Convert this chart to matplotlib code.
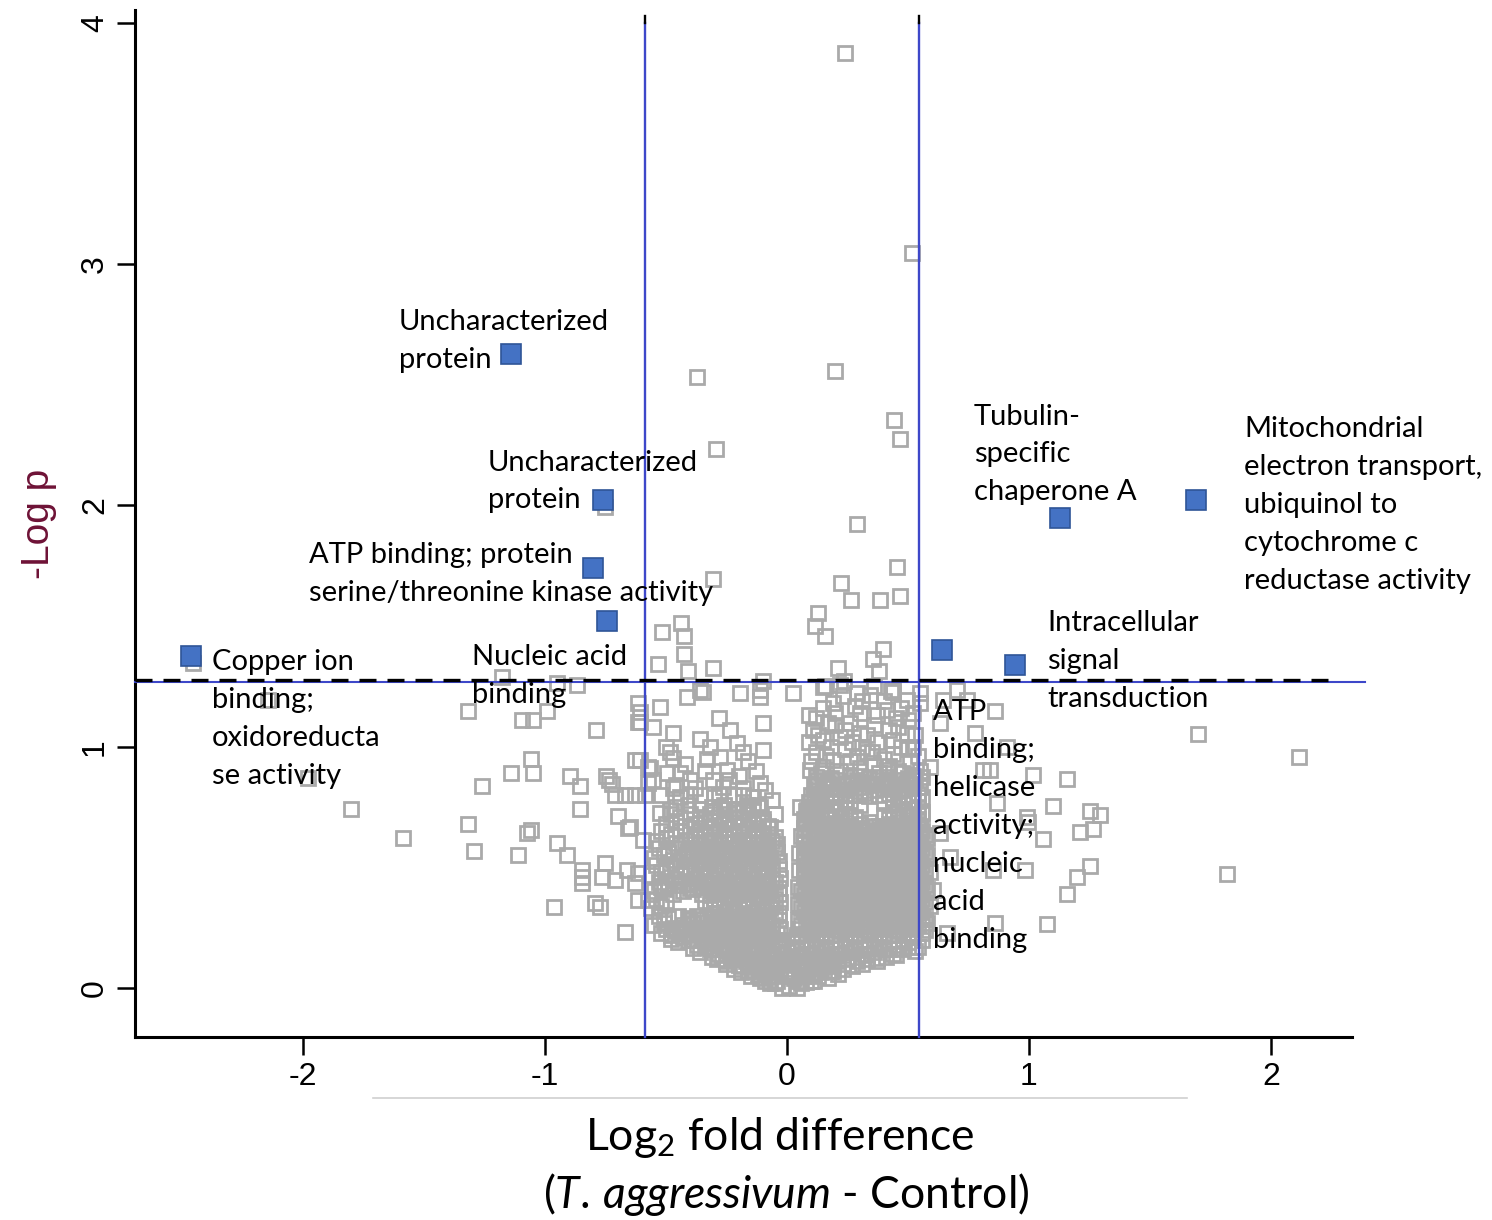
import numpy as np
import matplotlib.pyplot as plt
from matplotlib.lines import Line2D

plt.rcParams['font.family'] = ['Liberation Sans', 'DejaVu Sans']
plt.rcParams['axes.unicode_minus'] = False
plt.rcParams['mathtext.fontset'] = 'custom'
plt.rcParams['mathtext.rm'] = 'Lato'
plt.rcParams['mathtext.it'] = 'Lato:italic'

# Proteins passing both cut-offs (log2 fold difference, -log p)
hit_x = [-2.463, -1.140, -0.760, -0.802, -0.744, 0.640, 0.942, 1.128, 1.690]
hit_y = [1.376, 2.627, 2.022, 1.741, 1.521, 1.401, 1.339, 1.948, 2.022]
hit_labels = [
    'Copper ion\nbinding;\noxidoreducta\nse activity',
    'Uncharacterized\nprotein',
    'Uncharacterized\nprotein',
    'ATP binding; protein\nserine/threonine kinase activity',
    'Nucleic acid\nbinding',
    'ATP\nbinding;\nhelicase\nactivity;\nnucleic\nacid\nbinding',
    'Intracellular\nsignal\ntransduction',
    'Tubulin-\nspecific\nchaperone A',
    'Mitochondrial\nelectron transport,\nubiquinol to\ncytochrome c\nreductase activity',
]
label_pos = [(-2.376, 1.113), (-1.603, 2.681), (-1.236, 2.099), (-1.975, 1.714),
             (-1.302, 1.293), (0.603, 0.671), (1.074, 1.357), (0.773, 2.211),
             (1.888, 2.003)]

# Cut-offs
fc_low, fc_high = -0.587, 0.546
p_cut = 1.278

# Scattered proteins away from the central cloud
outer_pts = [
    (0.240, 3.875), (0.517, 3.046), (-0.372, 2.532), (0.198, 2.557), (0.442, 2.354),
    (0.467, 2.275), (-0.293, 2.234), (0.289, 1.923), (0.455, 1.745), (-0.306, 1.695),
    (0.223, 1.678), (0.264, 1.608), (0.384, 1.608), (0.467, 1.625), (0.128, 1.554),
    (0.116, 1.500), (0.157, 1.459), (-0.517, 1.475), (-0.438, 1.513), (-0.426, 1.459),
    (-0.426, 1.384), (-0.409, 1.314), (-0.533, 1.343), (-0.306, 1.326), (0.397, 1.405),
    (0.355, 1.363), (0.380, 1.314), (0.211, 1.326), (-0.099, 1.272), (0.157, 1.252),
    (0.236, 1.272), (-0.752, 1.993),
    (-2.455, 1.347), (-1.979, 0.870), (-1.802, 0.742), (-1.587, 0.622), (-2.145, 1.194),
    (-1.178, 1.289), (-1.318, 1.148), (-1.095, 1.111), (-1.050, 1.111), (-0.992, 1.148),
    (-0.950, 1.264), (-0.868, 1.256), (-0.789, 1.069), (-1.058, 0.949), (-1.140, 0.891),
    (-1.050, 0.891), (-1.260, 0.837), (-0.897, 0.879), (-0.855, 0.837), (-0.748, 0.879),
    (-0.736, 0.862), (-0.723, 0.845), (-0.711, 0.800), (-0.669, 0.800), (-0.628, 0.800),
    (-0.587, 0.800), (-1.318, 0.680), (-1.293, 0.568), (-1.112, 0.551), (-1.074, 0.642),
    (-1.058, 0.655), (-0.855, 0.742), (-0.698, 0.713), (-0.657, 0.663), (-0.950, 0.601),
    (-0.909, 0.551), (-0.847, 0.489), (-0.847, 0.460), (-0.847, 0.435), (-0.752, 0.518),
    (-0.764, 0.460), (-0.711, 0.448), (-0.661, 0.489), (-0.628, 0.435), (-0.793, 0.352),
    (-0.773, 0.336), (-0.963, 0.336), (-0.669, 0.232), (-0.616, 0.365),
    (-0.616, 1.181), (-0.616, 1.102), (-0.628, 0.945), (-0.574, 0.916), (-0.574, 0.850),
    (-0.595, 0.613), (-0.616, 0.477), (-0.574, 0.365), (-0.360, 1.235), (-0.112, 1.235),
    (0.438, 1.235), (0.550, 1.222), (0.702, 1.235),
    (0.860, 1.148), (0.777, 1.057), (1.698, 1.053), (2.116, 0.957), (1.818, 0.472),
    (1.157, 0.866), (1.099, 0.754), (1.252, 0.734), (1.293, 0.717), (1.211, 0.647),
    (1.264, 0.659), (1.058, 0.617), (1.252, 0.506), (1.198, 0.460), (1.157, 0.390),
    (1.074, 0.265), (1.017, 0.883), (0.996, 0.688), (0.983, 0.489), (0.860, 0.269),
    (0.909, 0.999), (0.810, 0.903), (0.744, 1.194), (0.591, 0.916), (0.839, 0.903),
    (0.868, 0.767), (0.992, 0.709), (0.851, 0.489), (0.632, 0.642), (0.674, 0.543),
    (0.603, 0.406), (0.661, 0.228), (0.632, 1.098), (0.645, 1.194),
]

# Upper, looser part of the two lobes
upper_pts = [
    (-0.414, 1.207), (-0.347, 1.228), (-0.194, 1.222), (-0.112, 1.207), (-0.525, 1.166),
    (-0.607, 1.145), (-0.607, 1.104), (-0.554, 1.083), (-0.471, 1.057), (-0.483, 0.979),
    (-0.471, 0.953), (-0.318, 1.000), (-0.236, 1.069), (-0.208, 1.014), (-0.181, 0.979),
    (-0.098, 0.986), (-0.277, 0.959), (-0.249, 0.903), (-0.305, 0.862), (-0.263, 0.834),
    (-0.181, 0.828), (-0.607, 0.945), (-0.566, 0.910), (-0.497, 0.890), (-0.552, 0.862),
    (-0.470, 0.828), (-0.401, 0.800), (-0.525, 0.724), (-0.483, 0.738), (-0.277, 0.751),
    (-0.167, 0.758), (-0.112, 0.751), (-0.070, 0.668), (-0.649, 0.668), (0.025, 1.222),
    (0.149, 1.248), (0.219, 1.256), (0.289, 1.222), (0.343, 1.214), (0.438, 1.227),
    (0.496, 1.194), (0.190, 1.181), (0.302, 1.140), (0.413, 1.152), (0.107, 1.069),
    (0.149, 1.028), (0.219, 1.040), (0.302, 1.057), (0.372, 1.020), (0.438, 1.028),
    (0.496, 1.057), (0.095, 0.903), (0.149, 0.916), (0.190, 0.945), (0.289, 0.957),
    (0.355, 0.932), (0.413, 0.903), (0.479, 0.891), (0.054, 0.750), (0.083, 0.738),
    (0.107, 0.750), (0.50, 1.11), (0.52, 1.00), (0.51, 0.94), (0.55, 0.90), (0.24, 0.99),
    (0.33, 0.98), (0.17, 1.10), (0.26, 1.10), (0.36, 1.09), (0.45, 1.12), (0.12, 0.98),
    (0.12, 1.12), (0.20, 1.09), (0.28, 1.17), (0.40, 1.19), (0.47, 1.16), (0.53, 1.05),
    (0.16, 0.96), (0.27, 1.02), (0.35, 0.98), (0.44, 0.97), (0.50, 0.99), (0.09, 1.02),
    (0.23, 1.21), (0.37, 1.13), (0.42, 1.07),
    (0.10, 0.94), (0.18, 1.00), (0.26, 0.94), (0.31, 1.00), (0.40, 0.95), (0.47, 1.00),
    (0.54, 0.96), (0.13, 1.05), (0.24, 1.07), (0.33, 1.05), (0.46, 1.08), (0.52, 1.14),
    (0.15, 1.16), (0.31, 1.19), (0.43, 1.23), (0.36, 1.25), (0.20, 1.14), (0.09, 1.13),
    (0.55, 1.18), (0.30, 0.91), (0.42, 0.92),
    (-0.44, 0.79), (-0.36, 0.80), (-0.30, 0.79), (-0.22, 0.80), (-0.14, 0.79), (-0.09, 0.82),
    (-0.40, 0.86), (-0.34, 0.90), (-0.20, 0.88), (-0.13, 0.90), (-0.42, 0.93), (-0.36, 1.03),
    (-0.10, 1.10), (-0.28, 1.12), (-0.50, 1.00),
    (-0.52, 0.80), (-0.46, 0.84), (-0.38, 0.83), (-0.28, 0.80), (-0.18, 0.80), (-0.11, 0.85),
    (-0.24, 0.86), (-0.33, 0.95), (-0.16, 0.94), (-0.44, 0.89), (-0.06, 0.78), (-0.05, 0.72),
]

# Dense base of the volcano, both sides joined
base_pts = [
    (-0.05, 0.02), (-0.02, 0.00), (0.01, 0.01), (0.04, 0.00), (0.06, 0.02),
    (-0.09, 0.03), (-0.07, 0.02), (0.05, 0.03), (0.08, 0.025), (0.11, 0.03),
    (-0.15, 0.05), (-0.11, 0.04), (-0.08, 0.05), (-0.04, 0.03), (-0.01, 0.05), (0.03, 0.04),
    (0.07, 0.05), (0.10, 0.03), (0.13, 0.05), (0.17, 0.04),
    (-0.19, 0.065), (-0.16, 0.07), (-0.12, 0.06), (-0.09, 0.065), (-0.05, 0.07), (-0.01, 0.06),
    (0.03, 0.065), (0.07, 0.07), (0.10, 0.06), (0.14, 0.065), (0.18, 0.07), (0.21, 0.06),
    (-0.22, 0.08), (-0.18, 0.09), (-0.14, 0.07), (-0.10, 0.08), (-0.07, 0.09), (-0.03, 0.07),
    (0.01, 0.08), (0.05, 0.09), (0.08, 0.07), (0.12, 0.08), (0.16, 0.09), (0.19, 0.07),
    (0.23, 0.08), (0.27, 0.09),
    (-0.25, 0.10), (-0.20, 0.095), (-0.16, 0.10), (-0.12, 0.095), (-0.08, 0.10), (-0.04, 0.095),
    (0.00, 0.10), (0.04, 0.095), (0.08, 0.10), (0.12, 0.095), (0.15, 0.10), (0.19, 0.095),
    (0.23, 0.10), (0.27, 0.095), (0.31, 0.10),
    (-0.29, 0.12), (-0.25, 0.11), (-0.21, 0.12), (-0.17, 0.11), (-0.14, 0.12), (-0.10, 0.11),
    (-0.06, 0.12), (-0.02, 0.11), (0.02, 0.12), (0.06, 0.11), (0.10, 0.12), (0.14, 0.11),
    (0.17, 0.12), (0.21, 0.11), (0.25, 0.12), (0.29, 0.11), (0.33, 0.12), (0.37, 0.11),
    (-0.31, 0.13), (-0.27, 0.135), (-0.23, 0.125), (-0.19, 0.13), (-0.15, 0.135), (-0.11, 0.125),
    (-0.07, 0.13), (-0.03, 0.135), (0.01, 0.125), (0.05, 0.13), (0.09, 0.135), (0.13, 0.125),
    (0.17, 0.13), (0.21, 0.135), (0.25, 0.125), (0.29, 0.13), (0.33, 0.135), (0.37, 0.125),
    (0.41, 0.13), (0.45, 0.135),
    (-0.36, 0.15), (-0.32, 0.16), (-0.28, 0.14), (-0.24, 0.15), (-0.20, 0.16), (-0.16, 0.14),
    (-0.12, 0.15), (-0.08, 0.16), (-0.04, 0.14), (0.00, 0.15), (0.04, 0.16), (0.08, 0.14),
    (0.12, 0.15), (0.16, 0.16), (0.20, 0.14), (0.24, 0.15), (0.28, 0.16), (0.32, 0.14),
    (0.36, 0.15), (0.40, 0.16), (0.44, 0.14), (0.48, 0.16),
    (-0.39, 0.165), (-0.34, 0.17), (-0.30, 0.16), (-0.26, 0.165), (-0.22, 0.17), (-0.18, 0.16),
    (-0.14, 0.165), (-0.10, 0.17), (-0.06, 0.16), (-0.02, 0.165), (0.02, 0.17), (0.06, 0.16),
    (0.10, 0.165), (0.14, 0.17), (0.18, 0.16), (0.22, 0.165), (0.26, 0.17), (0.30, 0.16),
    (0.34, 0.165), (0.38, 0.17), (0.42, 0.16), (0.46, 0.165), (0.50, 0.17), (0.53, 0.155),
    (-0.45, 0.19), (-0.41, 0.20), (-0.37, 0.18), (-0.33, 0.19), (-0.29, 0.20), (-0.25, 0.18),
    (-0.21, 0.19), (-0.17, 0.20), (-0.13, 0.18), (-0.09, 0.19), (-0.05, 0.20), (-0.02, 0.18),
    (0.02, 0.19), (0.06, 0.20), (0.10, 0.18), (0.14, 0.19), (0.18, 0.20), (0.22, 0.18),
    (0.26, 0.19), (0.30, 0.20), (0.34, 0.18), (0.38, 0.19), (0.42, 0.20), (0.46, 0.18),
    (0.50, 0.19), (0.54, 0.17),
    (-0.48, 0.205), (-0.43, 0.21), (-0.39, 0.20), (-0.35, 0.205), (-0.31, 0.21), (-0.27, 0.20),
    (-0.23, 0.205), (-0.19, 0.21), (-0.15, 0.20), (-0.11, 0.205), (-0.07, 0.21), (-0.03, 0.20),
    (0.04, 0.21), (0.08, 0.20), (0.12, 0.205), (0.16, 0.21), (0.20, 0.20), (0.24, 0.205),
    (0.28, 0.21), (0.32, 0.20), (0.36, 0.205), (0.40, 0.21), (0.44, 0.20), (0.48, 0.205),
    (0.52, 0.21), (0.56, 0.20),
    (-0.52, 0.23), (-0.48, 0.22), (-0.44, 0.23), (-0.40, 0.22), (-0.36, 0.23), (-0.32, 0.22),
    (-0.28, 0.23), (-0.24, 0.22), (-0.20, 0.23), (-0.16, 0.22), (-0.12, 0.23), (-0.08, 0.22),
    (-0.04, 0.23), (0.04, 0.22), (0.08, 0.23), (0.12, 0.22), (0.16, 0.23), (0.20, 0.22),
    (0.24, 0.23), (0.28, 0.22), (0.32, 0.23), (0.36, 0.22), (0.40, 0.23), (0.44, 0.22),
    (0.48, 0.23), (0.52, 0.22), (0.56, 0.23),
    (-0.50, 0.245), (-0.46, 0.24), (-0.42, 0.25), (-0.38, 0.245), (-0.34, 0.24), (-0.30, 0.25),
    (-0.26, 0.245), (-0.22, 0.24), (-0.18, 0.25), (-0.14, 0.245), (-0.10, 0.24), (-0.06, 0.25),
    (-0.03, 0.245), (0.05, 0.245), (0.09, 0.24), (0.13, 0.25), (0.17, 0.245), (0.21, 0.24),
    (0.25, 0.25), (0.29, 0.245), (0.33, 0.24), (0.37, 0.25), (0.41, 0.245), (0.45, 0.24),
    (0.49, 0.25), (0.53, 0.245), (0.57, 0.24),
]

# Left (down-regulated side) lobe of the cloud
left_pts = [
    (-0.55, 0.26), (-0.51, 0.27), (-0.47, 0.25), (-0.43, 0.26), (-0.39, 0.27), (-0.35, 0.25),
    (-0.31, 0.26), (-0.27, 0.27), (-0.23, 0.25), (-0.19, 0.26), (-0.15, 0.27), (-0.11, 0.25),
    (-0.06, 0.26),
    (-0.40, 0.28), (-0.36, 0.285), (-0.32, 0.275), (-0.28, 0.28), (-0.24, 0.285), (-0.20, 0.275),
    (-0.16, 0.28), (-0.12, 0.285), (-0.08, 0.275), (-0.035, 0.28),
    (-0.53, 0.30), (-0.49, 0.29), (-0.45, 0.30), (-0.41, 0.29), (-0.37, 0.30), (-0.33, 0.29),
    (-0.29, 0.30), (-0.25, 0.29), (-0.21, 0.30), (-0.17, 0.29), (-0.13, 0.30), (-0.09, 0.29),
    (-0.05, 0.30),
    (-0.30, 0.31), (-0.26, 0.315), (-0.22, 0.32), (-0.18, 0.31), (-0.14, 0.315), (-0.10, 0.32),
    (-0.035, 0.31),
    (-0.56, 0.33), (-0.52, 0.34), (-0.32, 0.33), (-0.28, 0.34), (-0.24, 0.32), (-0.20, 0.33),
    (-0.16, 0.34), (-0.12, 0.32), (-0.07, 0.33),
    (-0.30, 0.35), (-0.26, 0.355), (-0.22, 0.345), (-0.18, 0.35), (-0.14, 0.355), (-0.10, 0.345),
    (-0.06, 0.35), (-0.03, 0.355),
    (-0.54, 0.37), (-0.50, 0.36), (-0.34, 0.36), (-0.30, 0.37), (-0.26, 0.36), (-0.22, 0.37),
    (-0.18, 0.36), (-0.14, 0.37), (-0.10, 0.36), (-0.05, 0.37),
    (-0.32, 0.385), (-0.28, 0.39), (-0.24, 0.38), (-0.20, 0.385), (-0.16, 0.39), (-0.12, 0.38),
    (-0.08, 0.385), (-0.035, 0.39),
    (-0.55, 0.40), (-0.51, 0.41), (-0.47, 0.39), (-0.43, 0.40), (-0.39, 0.41), (-0.35, 0.39),
    (-0.31, 0.40), (-0.27, 0.41), (-0.23, 0.39), (-0.19, 0.40), (-0.15, 0.41), (-0.11, 0.39),
    (-0.07, 0.40),
    (-0.52, 0.42), (-0.44, 0.425), (-0.40, 0.415), (-0.36, 0.42), (-0.32, 0.425), (-0.28, 0.415),
    (-0.24, 0.42), (-0.20, 0.425), (-0.16, 0.415), (-0.12, 0.42), (-0.08, 0.425), (-0.035, 0.415),
    (-0.53, 0.44), (-0.49, 0.43), (-0.45, 0.44), (-0.41, 0.43), (-0.37, 0.44), (-0.33, 0.43),
    (-0.29, 0.44), (-0.25, 0.43), (-0.21, 0.44), (-0.17, 0.43), (-0.13, 0.44), (-0.09, 0.43),
    (-0.05, 0.44),
    (-0.38, 0.455), (-0.34, 0.46), (-0.30, 0.45), (-0.26, 0.455), (-0.22, 0.46), (-0.18, 0.45),
    (-0.14, 0.455), (-0.10, 0.46), (-0.06, 0.45), (-0.03, 0.455),
    (-0.56, 0.47), (-0.52, 0.48), (-0.48, 0.46), (-0.44, 0.47), (-0.40, 0.48), (-0.36, 0.46),
    (-0.32, 0.47), (-0.28, 0.48), (-0.24, 0.46), (-0.20, 0.47), (-0.16, 0.48), (-0.12, 0.46),
    (-0.08, 0.47),
    (-0.50, 0.49), (-0.42, 0.495), (-0.38, 0.485), (-0.34, 0.49), (-0.30, 0.495), (-0.26, 0.485),
    (-0.22, 0.49), (-0.18, 0.495), (-0.14, 0.485), (-0.10, 0.49), (-0.035, 0.495),
    (-0.54, 0.51), (-0.50, 0.50), (-0.46, 0.51), (-0.42, 0.50), (-0.38, 0.51), (-0.34, 0.50),
    (-0.30, 0.51), (-0.26, 0.50), (-0.22, 0.51), (-0.18, 0.50), (-0.14, 0.51), (-0.10, 0.50),
    (-0.06, 0.51),
    (-0.40, 0.525), (-0.36, 0.53), (-0.32, 0.52), (-0.28, 0.525), (-0.24, 0.53), (-0.20, 0.52),
    (-0.16, 0.525), (-0.12, 0.53), (-0.08, 0.52), (-0.035, 0.525),
    (-0.55, 0.54), (-0.51, 0.55), (-0.47, 0.53), (-0.43, 0.54), (-0.39, 0.55), (-0.35, 0.53),
    (-0.31, 0.54), (-0.27, 0.55), (-0.23, 0.53), (-0.19, 0.54), (-0.15, 0.55), (-0.11, 0.53),
    (-0.07, 0.54),
    (-0.49, 0.56), (-0.41, 0.565), (-0.37, 0.555), (-0.33, 0.56), (-0.29, 0.565), (-0.25, 0.555),
    (-0.21, 0.56), (-0.17, 0.565), (-0.13, 0.555), (-0.09, 0.56), (-0.04, 0.565),
    (-0.53, 0.58), (-0.49, 0.57), (-0.45, 0.58), (-0.41, 0.57), (-0.37, 0.58), (-0.33, 0.57),
    (-0.29, 0.58), (-0.25, 0.57), (-0.21, 0.58), (-0.17, 0.57), (-0.13, 0.58), (-0.09, 0.57),
    (-0.05, 0.58),
    (-0.40, 0.595), (-0.36, 0.60), (-0.32, 0.59), (-0.28, 0.595), (-0.24, 0.60), (-0.20, 0.59),
    (-0.16, 0.595), (-0.12, 0.60), (-0.08, 0.59), (-0.04, 0.595),
    (-0.54, 0.61), (-0.50, 0.62), (-0.46, 0.60), (-0.42, 0.61), (-0.38, 0.62), (-0.34, 0.60),
    (-0.30, 0.61), (-0.26, 0.62), (-0.22, 0.60), (-0.18, 0.61), (-0.14, 0.62), (-0.10, 0.60),
    (-0.06, 0.61),
    (-0.38, 0.63), (-0.34, 0.635), (-0.30, 0.625), (-0.26, 0.63), (-0.22, 0.635), (-0.18, 0.625),
    (-0.14, 0.63), (-0.10, 0.635), (-0.05, 0.625),
    (-0.52, 0.65), (-0.48, 0.64), (-0.44, 0.65), (-0.40, 0.64), (-0.36, 0.65), (-0.32, 0.64),
    (-0.28, 0.65), (-0.24, 0.64), (-0.20, 0.65), (-0.16, 0.64), (-0.12, 0.65), (-0.08, 0.64),
    (-0.36, 0.665), (-0.32, 0.67), (-0.28, 0.66), (-0.24, 0.665), (-0.20, 0.67), (-0.16, 0.66),
    (-0.12, 0.665), (-0.08, 0.67),
    (-0.50, 0.68), (-0.46, 0.69), (-0.42, 0.67), (-0.38, 0.68), (-0.34, 0.69), (-0.30, 0.67),
    (-0.26, 0.68), (-0.22, 0.69), (-0.18, 0.67), (-0.14, 0.68), (-0.10, 0.69),
    (-0.34, 0.70), (-0.30, 0.705), (-0.26, 0.695), (-0.22, 0.70), (-0.18, 0.705), (-0.14, 0.695),
    (-0.10, 0.70),
    (-0.48, 0.72), (-0.44, 0.71), (-0.40, 0.72), (-0.36, 0.71), (-0.32, 0.72), (-0.28, 0.71),
    (-0.24, 0.72), (-0.20, 0.71), (-0.16, 0.72), (-0.12, 0.71),
    (-0.30, 0.735), (-0.26, 0.74), (-0.22, 0.73), (-0.18, 0.735), (-0.14, 0.74),
    (-0.46, 0.75), (-0.41, 0.76), (-0.36, 0.74), (-0.31, 0.75), (-0.26, 0.76), (-0.21, 0.74),
    (-0.16, 0.75), (-0.12, 0.76),
]

# Right (up-regulated side) lobe of the cloud
right_pts = [
    (0.06, 0.26), (0.10, 0.27), (0.14, 0.25), (0.18, 0.26), (0.22, 0.27), (0.26, 0.25),
    (0.30, 0.26), (0.34, 0.27), (0.38, 0.25), (0.42, 0.26), (0.46, 0.27), (0.50, 0.25),
    (0.54, 0.26), (0.58, 0.27),
    (0.045, 0.28), (0.09, 0.285), (0.13, 0.275), (0.17, 0.28), (0.21, 0.285), (0.25, 0.275),
    (0.29, 0.28), (0.33, 0.285), (0.37, 0.275), (0.41, 0.28), (0.45, 0.285), (0.49, 0.275),
    (0.53, 0.28), (0.57, 0.285),
    (0.08, 0.30), (0.12, 0.29), (0.16, 0.30), (0.20, 0.29), (0.24, 0.30), (0.28, 0.29),
    (0.32, 0.30), (0.36, 0.29), (0.40, 0.30), (0.44, 0.29), (0.48, 0.30), (0.52, 0.29),
    (0.56, 0.30),
    (0.07, 0.315), (0.11, 0.32), (0.15, 0.31), (0.19, 0.315), (0.23, 0.32), (0.27, 0.31),
    (0.31, 0.315), (0.35, 0.32), (0.39, 0.31), (0.43, 0.315), (0.47, 0.32), (0.51, 0.31),
    (0.55, 0.315),
    (0.06, 0.33), (0.10, 0.34), (0.14, 0.32), (0.18, 0.33), (0.22, 0.34), (0.26, 0.32),
    (0.30, 0.33), (0.34, 0.34), (0.38, 0.32), (0.42, 0.33), (0.46, 0.34), (0.50, 0.32),
    (0.54, 0.33), (0.59, 0.34),
    (0.045, 0.35), (0.09, 0.355), (0.13, 0.345), (0.17, 0.35), (0.21, 0.355), (0.25, 0.345),
    (0.29, 0.35), (0.33, 0.355), (0.37, 0.345), (0.41, 0.35), (0.45, 0.355), (0.49, 0.345),
    (0.53, 0.35), (0.57, 0.355),
    (0.08, 0.37), (0.12, 0.36), (0.16, 0.37), (0.20, 0.36), (0.24, 0.37), (0.28, 0.36),
    (0.32, 0.37), (0.36, 0.36), (0.40, 0.37), (0.44, 0.36), (0.48, 0.37), (0.52, 0.36),
    (0.56, 0.37),
    (0.07, 0.385), (0.11, 0.39), (0.15, 0.38), (0.19, 0.385), (0.23, 0.39), (0.27, 0.38),
    (0.31, 0.385), (0.35, 0.39), (0.39, 0.38), (0.43, 0.385), (0.47, 0.39), (0.51, 0.38),
    (0.55, 0.385),
    (0.06, 0.40), (0.10, 0.41), (0.14, 0.39), (0.18, 0.40), (0.22, 0.41), (0.26, 0.39),
    (0.30, 0.40), (0.34, 0.41), (0.38, 0.39), (0.42, 0.40), (0.46, 0.41), (0.50, 0.39),
    (0.54, 0.40), (0.58, 0.41),
    (0.045, 0.42), (0.09, 0.425), (0.13, 0.415), (0.17, 0.42), (0.21, 0.425), (0.25, 0.415),
    (0.29, 0.42), (0.33, 0.425), (0.37, 0.415), (0.41, 0.42), (0.45, 0.425), (0.49, 0.415),
    (0.53, 0.42), (0.57, 0.425),
    (0.08, 0.44), (0.12, 0.43), (0.16, 0.44), (0.20, 0.43), (0.24, 0.44), (0.28, 0.43),
    (0.32, 0.44), (0.36, 0.43), (0.40, 0.44), (0.44, 0.43), (0.48, 0.44), (0.52, 0.43),
    (0.56, 0.44),
    (0.07, 0.455), (0.11, 0.46), (0.15, 0.45), (0.19, 0.455), (0.23, 0.46), (0.27, 0.45),
    (0.31, 0.455), (0.35, 0.46), (0.39, 0.45), (0.43, 0.455), (0.47, 0.46), (0.51, 0.45),
    (0.55, 0.455),
    (0.07, 0.47), (0.10, 0.48), (0.14, 0.46), (0.18, 0.47), (0.22, 0.48), (0.26, 0.46),
    (0.30, 0.47), (0.34, 0.48), (0.38, 0.46), (0.42, 0.47), (0.46, 0.48), (0.50, 0.46),
    (0.54, 0.47), (0.59, 0.48),
    (0.05, 0.49), (0.09, 0.495), (0.13, 0.485), (0.17, 0.49), (0.21, 0.495), (0.25, 0.485),
    (0.29, 0.49), (0.33, 0.495), (0.37, 0.485), (0.41, 0.49), (0.45, 0.495), (0.49, 0.485),
    (0.53, 0.49), (0.57, 0.495),
    (0.08, 0.51), (0.12, 0.50), (0.16, 0.51), (0.20, 0.50), (0.24, 0.51), (0.28, 0.50),
    (0.32, 0.51), (0.36, 0.50), (0.40, 0.51), (0.44, 0.50), (0.48, 0.51), (0.52, 0.50),
    (0.56, 0.51),
    (0.07, 0.525), (0.11, 0.53), (0.15, 0.52), (0.19, 0.525), (0.23, 0.53), (0.27, 0.52),
    (0.31, 0.525), (0.35, 0.53), (0.39, 0.52), (0.43, 0.525), (0.47, 0.53), (0.51, 0.52),
    (0.55, 0.525),
    (0.07, 0.54), (0.10, 0.55), (0.14, 0.53), (0.18, 0.54), (0.22, 0.55), (0.26, 0.53),
    (0.30, 0.54), (0.34, 0.55), (0.38, 0.53), (0.42, 0.54), (0.46, 0.55), (0.50, 0.53),
    (0.54, 0.54), (0.58, 0.55),
    (0.05, 0.56), (0.09, 0.565), (0.13, 0.555), (0.17, 0.56), (0.21, 0.565), (0.25, 0.555),
    (0.29, 0.56), (0.33, 0.565), (0.37, 0.555), (0.41, 0.56), (0.45, 0.565), (0.49, 0.555),
    (0.53, 0.56), (0.57, 0.565),
    (0.08, 0.58), (0.12, 0.57), (0.16, 0.58), (0.20, 0.57), (0.24, 0.58), (0.28, 0.57),
    (0.32, 0.58), (0.36, 0.57), (0.40, 0.58), (0.44, 0.57), (0.48, 0.58), (0.52, 0.57),
    (0.56, 0.58),
    (0.07, 0.595), (0.11, 0.60), (0.15, 0.59), (0.19, 0.595), (0.23, 0.60), (0.27, 0.59),
    (0.31, 0.595), (0.35, 0.60), (0.39, 0.59), (0.43, 0.595), (0.47, 0.60), (0.51, 0.59),
    (0.55, 0.595),
    (0.07, 0.61), (0.11, 0.62), (0.14, 0.60), (0.18, 0.61), (0.22, 0.62), (0.26, 0.60),
    (0.30, 0.61), (0.34, 0.62), (0.38, 0.60), (0.42, 0.61), (0.46, 0.62), (0.50, 0.60),
    (0.54, 0.61), (0.58, 0.62),
    (0.06, 0.63), (0.09, 0.635), (0.13, 0.625), (0.17, 0.63), (0.21, 0.635), (0.25, 0.625),
    (0.29, 0.63), (0.33, 0.635), (0.37, 0.625), (0.41, 0.63), (0.45, 0.635), (0.49, 0.625),
    (0.53, 0.63), (0.57, 0.635),
    (0.09, 0.65), (0.12, 0.64), (0.16, 0.65), (0.20, 0.64), (0.24, 0.65), (0.28, 0.64),
    (0.32, 0.65), (0.36, 0.64), (0.40, 0.65), (0.44, 0.64), (0.48, 0.65), (0.52, 0.64),
    (0.56, 0.65),
    (0.07, 0.665), (0.11, 0.67), (0.15, 0.66), (0.19, 0.665), (0.23, 0.67), (0.27, 0.66),
    (0.31, 0.665), (0.35, 0.67), (0.39, 0.66), (0.43, 0.665), (0.47, 0.67), (0.51, 0.66),
    (0.55, 0.665),
    (0.08, 0.68), (0.11, 0.69), (0.14, 0.67), (0.18, 0.68), (0.22, 0.69), (0.26, 0.67),
    (0.30, 0.68), (0.34, 0.69), (0.38, 0.67), (0.42, 0.68), (0.46, 0.69), (0.50, 0.67),
    (0.54, 0.68),
    (0.07, 0.70), (0.10, 0.705), (0.14, 0.695), (0.18, 0.70), (0.22, 0.705), (0.26, 0.695),
    (0.42, 0.70), (0.46, 0.705), (0.50, 0.695), (0.54, 0.70),
    (0.28, 0.71), (0.40, 0.715), (0.30, 0.76), (0.40, 0.765),
    (0.09, 0.72), (0.12, 0.71), (0.16, 0.72), (0.20, 0.71), (0.24, 0.72), (0.44, 0.71),
    (0.48, 0.72), (0.52, 0.71), (0.56, 0.72),
    (0.08, 0.735), (0.12, 0.74), (0.16, 0.73), (0.20, 0.735), (0.24, 0.74), (0.44, 0.73),
    (0.48, 0.735), (0.52, 0.74), (0.56, 0.73),
    (0.10, 0.75), (0.14, 0.76), (0.18, 0.74), (0.22, 0.75), (0.46, 0.76), (0.50, 0.74),
    (0.54, 0.75),
    (0.09, 0.77), (0.13, 0.775), (0.18, 0.765), (0.22, 0.77), (0.26, 0.775), (0.46, 0.765),
    (0.50, 0.77), (0.54, 0.775),
    (0.11, 0.79), (0.16, 0.78), (0.20, 0.79), (0.24, 0.78), (0.28, 0.80), (0.44, 0.78),
    (0.48, 0.79), (0.52, 0.78), (0.56, 0.79),
    (0.10, 0.80), (0.14, 0.805), (0.18, 0.795), (0.22, 0.80), (0.26, 0.805), (0.30, 0.80),
    (0.34, 0.795), (0.38, 0.80), (0.42, 0.805), (0.46, 0.795), (0.50, 0.80), (0.54, 0.805),
    (0.12, 0.82), (0.16, 0.83), (0.20, 0.81), (0.24, 0.82), (0.28, 0.83), (0.32, 0.81),
    (0.36, 0.82), (0.40, 0.83), (0.44, 0.81), (0.48, 0.82), (0.52, 0.83),
    (0.11, 0.84), (0.15, 0.845), (0.19, 0.835), (0.23, 0.84), (0.27, 0.845), (0.31, 0.835),
    (0.35, 0.84), (0.39, 0.845), (0.43, 0.835), (0.47, 0.84), (0.51, 0.845), (0.55, 0.835),
    (0.13, 0.86), (0.17, 0.85), (0.21, 0.86), (0.25, 0.85), (0.29, 0.86), (0.33, 0.85),
    (0.37, 0.86), (0.41, 0.85), (0.45, 0.86), (0.49, 0.85), (0.53, 0.86),
    (0.12, 0.875), (0.18, 0.87), (0.26, 0.875), (0.34, 0.87), (0.42, 0.875), (0.50, 0.87),
    (0.56, 0.875),
    (0.14, 0.89), (0.22, 0.90), (0.30, 0.88), (0.38, 0.89), (0.46, 0.90), (0.52, 0.88),
]

gray = '#aaaaaa'
blue_line = '#3d47c9'

fig = plt.figure(figsize=(14.92, 12.2), dpi=100)
ax = fig.add_axes([0.0905, 0.15, 0.8157, 0.8418])

# all proteins as hollow grey squares
for pts in (outer_pts, upper_pts, base_pts, left_pts, right_pts):
    xs, ys = zip(*pts)
    ax.plot(xs, ys, 's', ms=9.5, mfc='none', mec=gray, mew=2.0, zorder=2)

# fold-change and significance cut-offs
for xv in (fc_low, fc_high):
    ax.plot([xv, xv], [-0.203, 4.0], color=blue_line, lw=1.7, zorder=3, clip_on=False)
    ax.plot([xv, xv], [4.0, 4.03], color='black', lw=1.7, zorder=3, clip_on=False)
ax.plot([-2.694, 2.39], [p_cut - 0.008, p_cut - 0.008], color=blue_line, lw=1.5,
        zorder=3, clip_on=False)
ax.plot([-2.694, 2.244], [p_cut, p_cut], color='black', lw=2.4, dashes=(5.1, 3.3),
        zorder=3, clip_on=False)

# highlighted proteins and their annotations
ax.plot(hit_x, hit_y, 's', ms=14, mfc='#4472c4', mec='#2f5597', mew=1.2, zorder=5)
for (lx, ly), txt in zip(label_pos, hit_labels):
    ax.text(lx, ly, txt, fontsize=21, family='Lato', ha='left', va='center',
            linespacing=1.57, zorder=4)

ax.set_xlim(-2.694, 2.335)
ax.set_ylim(-0.203, 4.053)
ax.set_xticks([-2, -1, 0, 1, 2])
ax.set_yticks([0, 1, 2, 3, 4])
for side in ('top', 'right'):
    ax.spines[side].set_visible(False)
for side in ('left', 'bottom'):
    ax.spines[side].set_linewidth(2.2)
ax.tick_params(axis='both', length=13, width=1.8, labelsize=23, pad=5)
ax.tick_params(axis='y', labelrotation=90)
for lab in ax.get_yticklabels():
    lab.set_verticalalignment('center')

ax.set_ylabel('-Log p', fontsize=28, color='#6e1236')
ax.yaxis.set_label_coords(-0.064, 0.5)

fig.add_artist(Line2D([373 / 1492, 1187 / 1492], [0.1, 0.1], color='#d0d0d0', lw=1.2))
fig.text(780 / 1492, 1 - 1138 / 1220, r'Log$_2$ fold difference', ha='center',
         va='center', fontsize=32, family='Lato')
fig.text(786 / 1492, 1 - 1195 / 1220, r'($\mathit{T.\,aggressivum}$ - Control)',
         ha='center', va='center', fontsize=32, family='Lato')

fig.savefig('out.png', dpi=100)
